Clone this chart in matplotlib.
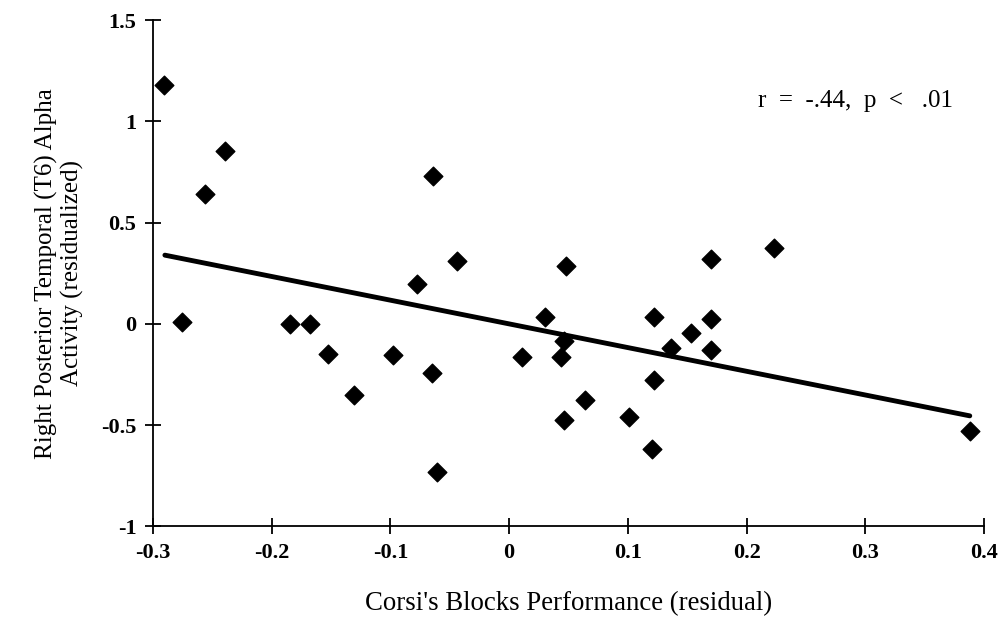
import numpy as np
import matplotlib
matplotlib.use("Agg")
import matplotlib.pyplot as plt

# Corsi's blocks residual vs T6 alpha residual
corsi = [-0.291, -0.276, -0.256, -0.239, -0.185, -0.168, -0.153, -0.131,
         -0.098, -0.078, -0.065, -0.064, -0.061, -0.044, 0.011, 0.030,
         0.044, 0.046, 0.048, 0.046, 0.064, 0.101, 0.120, 0.122,
         0.122, 0.136, 0.153, 0.170, 0.170, 0.170, 0.223, 0.388]
alpha = [1.18, 0.01, 0.64, 0.855, 0.0, 0.0, -0.15, -0.35,
         -0.155, 0.195, -0.24, 0.73, -0.73, 0.31, -0.165, 0.035,
         -0.165, -0.085, 0.285, -0.475, -0.375, -0.46, -0.62, -0.275,
         0.035, -0.12, -0.045, -0.13, 0.025, 0.32, 0.375, -0.53]

# regression line
fit_slope = -1.17
fit_intercept = 0.0
fit_x = [-0.29, 0.388]

xticks = [-0.3, -0.2, -0.1, 0, 0.1, 0.2, 0.3, 0.4]
yticks = [-1, -0.5, 0, 0.5, 1, 1.5]

plt.rcParams['font.family'] = ['Liberation Serif', 'DejaVu Serif']

fig = plt.figure(figsize=(10.04, 6.26), dpi=100)
ax = fig.add_axes([0.1524, 0.159, 0.8277, 0.809])

ax.scatter(corsi, alpha, marker='D', s=90, color='black', zorder=3)
fx = np.array(fit_x)
ax.plot(fx, fit_slope * fx + fit_intercept, color='black', linewidth=3.5,
        solid_capstyle='round')

ax.set_xlim(-0.3, 0.4)
ax.set_ylim(-1, 1.5)
ax.spines['top'].set_visible(False)
ax.spines['right'].set_visible(False)
ax.spines['left'].set_linewidth(1.3)
ax.spines['bottom'].set_linewidth(1.3)

ax.set_xticks(xticks)
ax.set_xticklabels(['-0.3', '-0.2', '-0.1', '0', '0.1', '0.2', '0.3', '0.4'])
ax.set_yticks(yticks)
ax.set_yticklabels(['-1', '-0.5', '0', '0.5', '1', '1.5'])
ax.tick_params(direction='inout', length=12, width=1.3, labelsize=16, pad=6)
for lbl in ax.get_xticklabels() + ax.get_yticklabels():
    lbl.set_fontweight('bold')

ax.set_xlabel("Corsi's Blocks Performance (residual)", fontsize=19.3, labelpad=20)
ax.set_ylabel("Right Posterior Temporal (T6) Alpha\nActivity (residualized)",
              fontsize=18, labelpad=12, linespacing=1.2)

ax.text(0.2917, 1.102, "r  =  -.44,  p  <   .01", fontsize=18,
        ha='center', va='center')

plt.savefig("out.png", dpi=100)
